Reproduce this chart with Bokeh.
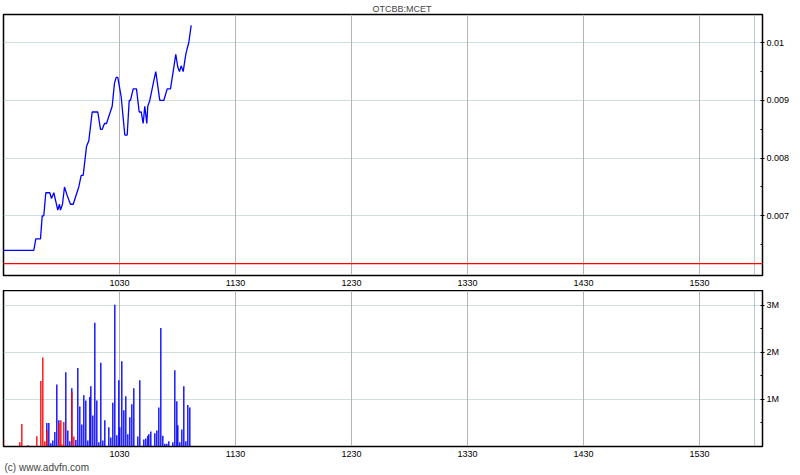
from bokeh.plotting import figure
from bokeh.layouts import column
from bokeh.models import Range1d, FixedTicker, Span, Title
from bokeh.embed import file_html
from bokeh.resources import INLINE

# ---------------- data ----------------
symbol = "OTCBB:MCET"
credit = "(c) www.advfn.com"

# minutes after the 9:30 open
x_start, x_end = 0, 392.6
x_ticks = [60, 120, 180, 240, 300, 360]
x_tick_labels = ["1030", "1130", "1230", "1330", "1430", "1530"]
close_marker = 388.5

price_min = [0.0, 15.67, 16.71, 19.14, 20.02, 20.84, 21.88, 23.95, 24.83, 26.02,
             27.05, 28.08, 28.96, 29.48, 30.51, 31.55, 32.95, 34.65, 36.05, 38.94,
             40.19, 41.22, 42.93, 44.12, 45.88, 48.77, 50.17, 51.05, 52.24, 53.27,
             56.22, 57.41, 58.29, 59.12, 60.88, 62.74, 63.98, 65.02, 65.68, 67.08,
             68.79, 70.18, 71.22, 72.25, 73.08, 74.12, 74.63, 75.67, 78.10, 78.77,
             80.84, 82.91, 84.67, 86.37, 87.77, 89.11, 90.15, 91.03, 91.91, 92.94,
             94.29, 95.01, 95.84, 97.08]
price = [0.0064, 0.0064, 0.0066, 0.0066, 0.0070, 0.0070, 0.0074, 0.0074, 0.0073, 0.0074,
         0.00725, 0.0071, 0.0072, 0.0071, 0.0072, 0.0075, 0.00735, 0.0072, 0.0072, 0.0075,
         0.0077, 0.0077, 0.0082, 0.0083, 0.0088, 0.0088, 0.0085, 0.0085, 0.0086, 0.0086,
         0.0089, 0.0093, 0.0094, 0.0094, 0.00906, 0.0084, 0.0084, 0.0090, 0.0090, 0.0092,
         0.0092, 0.0088, 0.0088, 0.0086, 0.0089, 0.0086, 0.0089, 0.0090, 0.0094, 0.0095,
         0.0090, 0.0090, 0.0092, 0.0092, 0.0095, 0.0098, 0.00958, 0.0095, 0.0096, 0.0095,
         0.0098, 0.0099, 0.0100, 0.0103]
prev_close = 0.00617
price_lo, price_hi = 0.005965, 0.01049
price_ticks = [0.007, 0.008, 0.009, 0.01]
price_tick_labels = ["0.007", "0.008", "0.009", "0.01"]
price_minor = [0.0065, 0.0075, 0.0085, 0.0095]

# volume in millions of shares
buy_min = [22.41, 23.45, 24.48, 25.51, 26.55, 27.58, 28.62, 32.24, 33.27, 34.31,
           35.34, 37.41, 38.44, 39.48, 40.51, 41.55, 42.58, 43.62, 44.65, 45.17,
           46.20, 47.24, 48.27, 49.31, 50.34, 51.38, 52.41, 54.48, 55.51, 56.55,
           57.58, 58.62, 59.65, 60.17, 61.20, 62.24, 63.27, 64.31, 65.34, 66.38,
           67.41, 69.48, 70.51, 72.58, 73.62, 74.65, 75.17, 76.20, 78.27, 79.31,
           80.34, 81.38, 82.41, 83.45, 84.48, 85.51, 87.58, 88.62, 89.65, 90.17,
           91.20, 92.24, 93.27, 94.31, 95.34, 96.38]
buy_vol = [0.50, 0.50, 0.07, 0.13, 0.31, 1.32, 0.56, 1.58, 0.34, 0.11,
           1.24, 0.14, 1.67, 0.85, 0.47, 1.09, 0.98, 0.13, 1.05, 1.28,
           0.66, 2.63, 0.98, 0.09, 1.78, 0.13, 0.56, 0.41, 0.19, 0.93,
           3.01, 0.24, 1.41, 0.41, 1.81, 0.77, 1.07, 0.26, 0.62, 0.90,
           1.24, 0.21, 1.41, 0.15, 0.17, 0.23, 0.26, 0.32, 0.28, 0.34,
           0.83, 2.52, 0.23, 0.06, 0.06, 0.11, 0.09, 1.62, 0.96, 0.45,
           0.09, 0.36, 1.28, 0.11, 0.88, 0.83]
sell_min = [0.0, 8.45, 9.48, 12.59, 17.24, 19.31, 20.34, 21.38, 22.41, 28.62,
            29.65, 30.17, 31.20, 35.34, 36.38]
sell_vol = [0.16, 0.09, 0.48, 0.03, 0.22, 1.39, 1.89, 0.11, 0.35, 0.50,
            0.56, 0.04, 0.52, 1.16, 0.21]
vol_hi = 3.315
vol_ticks = [1, 2, 3]
vol_tick_labels = ["1M", "2M", "3M"]
vol_minor = [0.5, 1.5, 2.5]

FONT = "Liberation Sans"
HGRID = "#9cbfbf"
VGRID = "#b4b4b4"


def style(p):
    p.background_fill_color = "white"
    p.border_fill_color = "white"
    p.outline_line_color = "black"
    p.outline_line_width = 1.5
    p.xgrid.grid_line_color = VGRID
    p.ygrid.grid_line_color = HGRID
    p.ygrid.grid_line_dash = "1 1"
    xa = p.xaxis[0]
    xa.ticker = FixedTicker(ticks=x_ticks)
    xa.major_label_overrides = dict(zip(x_ticks, x_tick_labels))
    xa.major_tick_out = 0
    xa.major_tick_in = 0
    xa.minor_tick_out = 0
    xa.minor_tick_in = 0
    xa.major_label_standoff = 4
    xa.axis_line_color = "black"
    xa.major_label_text_font = FONT
    xa.major_label_text_font_size = "9px"
    xa.major_label_text_color = "black"
    ya = p.yaxis[0]
    ya.axis_line_color = "black"
    ya.major_tick_out = 2
    ya.major_tick_in = 2
    ya.minor_tick_out = 0
    ya.minor_tick_in = 2
    ya.major_tick_line_color = "black"
    ya.minor_tick_line_color = "black"
    ya.major_label_standoff = 2
    ya.major_label_text_font = FONT
    ya.major_label_text_font_size = "9px"
    ya.major_label_text_color = "black"
    p.add_layout(Span(location=close_marker, dimension="height",
                      line_color="#6f9090", line_dash="1 1", line_width=1))


# ---------------- price panel ----------------
p1 = figure(width=800, height=290, x_range=Range1d(x_start, x_end),
            y_range=Range1d(price_lo, price_hi), output_backend="svg",
            toolbar_location=None, y_axis_location="right",
            min_border_left=3, min_border_right=38, min_border_top=14,
            min_border_bottom=15)
style(p1)
p1.yaxis[0].ticker = FixedTicker(ticks=price_ticks, minor_ticks=price_minor)
p1.yaxis[0].major_label_overrides = dict(zip(price_ticks, price_tick_labels))
p1.add_layout(Title(text=symbol, align="left", text_font=FONT,
                    text_font_size="9px", text_font_style="normal",
                    standoff=1, offset=369), "above")
p1.add_layout(Span(location=prev_close, dimension="width",
                   line_color="#ff0000", line_width=1.2))
p1.line(price_min, price, line_color="#0000ff", line_width=1.3)

# ---------------- volume panel ----------------
p2 = figure(width=800, height=185, x_range=p1.x_range,
            y_range=Range1d(0, vol_hi), output_backend="svg",
            toolbar_location=None, y_axis_location="right",
            min_border_left=3, min_border_right=38, min_border_top=0,
            min_border_bottom=29)
style(p2)
p2.yaxis[0].ticker = FixedTicker(ticks=vol_ticks, minor_ticks=vol_minor)
p2.yaxis[0].major_label_overrides = dict(zip(vol_ticks, vol_tick_labels))
p2.vbar(x=buy_min, top=buy_vol, bottom=0, width=0.7,
        fill_color="#0000ff", line_color=None)
p2.vbar(x=sell_min, top=sell_vol, bottom=0, width=0.7,
        fill_color="#ff0000", line_color=None)
p2.add_layout(Title(text=credit, align="left", text_font=FONT,
                    text_font_size="10px", text_font_style="normal",
                    standoff=0, offset=1), "below")

layout = column(p1, p2, spacing=0, margin=0)

open("out.html", "w").write(file_html(layout, INLINE))
